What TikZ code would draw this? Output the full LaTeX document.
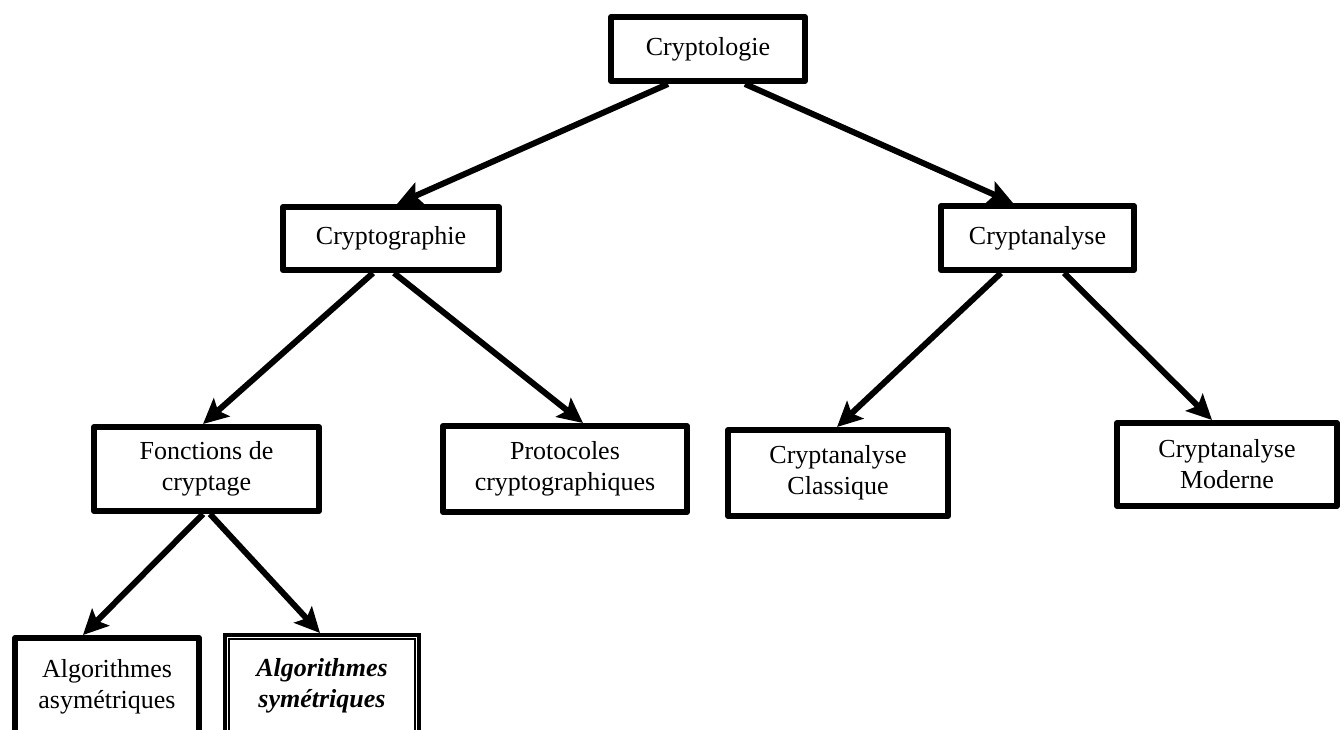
\documentclass[tikz,border=0pt]{standalone}
\usepackage{fontspec}
\setmainfont{Liberation Serif}
\usetikzlibrary{arrows.meta}

\begin{document}
\begin{tikzpicture}[
  x=0.5pt, y=-0.5pt,
  every node/.style={font=\fontsize{13pt}{15.5pt}\selectfont, align=center, inner sep=0pt},
  box/.style={draw, line width=3pt, line join=round, fill=white},
  link/.style={line width=3pt, -{Stealth[length=12.5pt, width=12pt, inset=2.5pt]}},
]
  % page frame
  \clip (0,0) rectangle (1344,729);
  \fill[white] (0,0) rectangle (1344,729);

  % hierarchy boxes
  \node[box, minimum width=97pt,  minimum height=32pt]   (logie)  at (708,49)     {Cryptologie};
  \node[box, minimum width=108pt, minimum height=31.5pt] (graph)  at (391,238.5)  {Cryptographie};
  \node[box, minimum width=96.5pt,minimum height=32pt]   (anal)   at (1037.5,238) {Cryptanalyse};
  \node[box, minimum width=112.5pt,minimum height=42pt]  (fonc)   at (206.5,469)  {Fonctions de\\cryptage};
  \node[box, minimum width=122pt, minimum height=43pt]   (proto)  at (565,469)    {Protocoles\\cryptographiques};
  \node[box, minimum width=110pt, minimum height=43pt]   (class)  at (838,473)    {Cryptanalyse\\Classique};
  \node[box, minimum width=110pt, minimum height=41.5pt] (modern) at (1227,464.5) {Cryptanalyse\\Moderne};
  \node[box, minimum width=92pt,  minimum height=49pt]   (asym)   at (107,687)    {Algorithmes\\asymétriques};
  \node[draw, line width=2pt, fill=white, minimum width=97pt, minimum height=51pt]
                                                         (sym)    at (322,686)    {\bfseries\itshape Algorithmes\\\bfseries\itshape symétriques};
  % inner rule of the double frame
  \draw[line width=1pt] ([shift={(6,6)}]sym.north west) rectangle ([shift={(-6,-6)}]sym.south east);

  % connectors
  \draw[link] ([xshift=-20pt]logie.south)  -- ([xshift=3pt]graph.north);
  \draw[link] ([xshift=18.5pt]logie.south) -- ([xshift=-12.25pt]anal.north);
  \draw[link] ([xshift=-9pt]graph.south)   -- ([xshift=-1.75pt]fonc.north);
  \draw[link] ([xshift=1.5pt]graph.south)  -- ([xshift=9pt]proto.north);
  \draw[link] ([xshift=-18.25pt]anal.south) -- ([xshift=-0.5pt]class.north);
  \draw[link] ([xshift=13.25pt]anal.south) -- ([xshift=-7.5pt]modern.north);
  \draw[link] ([xshift=-1.75pt]fonc.south) -- ([xshift=-12pt]asym.north);
  \draw[link] ([xshift=1.75pt]fonc.south)  -- ([xshift=-1pt]sym.north);
\end{tikzpicture}
\end{document}
